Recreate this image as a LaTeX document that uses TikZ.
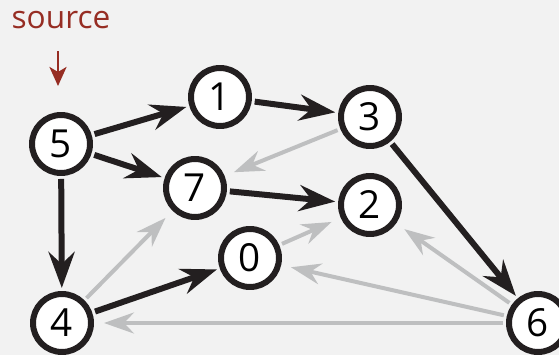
\documentclass[tikz,border=0pt]{standalone}
\usepackage{fontspec}
\setsansfont{Open Sans}
\usetikzlibrary{arrows.meta}
\definecolor{ink}{RGB}{35,31,32}
\definecolor{faded}{RGB}{190,191,192}
\definecolor{srcred}{RGB}{150,45,35}
\definecolor{paper}{RGB}{242,242,242}

\begin{document}
\begin{tikzpicture}[x=0.02cm,y=-0.02cm,
  vertex/.style={circle,draw=ink,line width=0.12cm,fill=white,minimum size=1.16cm,
    inner sep=0pt,font=\sffamily\fontsize{22}{22}\selectfont},
  treeedge/.style={draw=ink,line width=0.12cm,shorten <=0.06cm,shorten >=0.06cm,
    -{Stealth[length=0.72cm,width=0.52cm,inset=0.24cm]}},
  otheredge/.style={draw=faded,line width=0.08cm,shorten <=0.06cm,shorten >=0.2cm,
    -{Stealth[length=0.6cm,width=0.42cm,inset=0.2cm]}}]
\fill[paper] (0,0) rectangle (559,355);
\useasboundingbox (0,0) rectangle (559,355);

% vertices
\node[vertex] (v5) at (61,144) {5};
\node[vertex] (v1) at (220,97) {1};
\node[vertex] (v3) at (370,117) {3};
\node[vertex] (v7) at (195,188) {7};
\node[vertex] (v2) at (370,205) {2};
\node[vertex] (v0) at (250,258) {0};
\node[vertex] (v4) at (62,323) {4};
\node[vertex] (v6) at (538,323) {6};

% source marker
\node[text=srcred,font=\sffamily\fontsize{18}{18}\selectfont] (src) at (61,20) {source};
\coordinate (srctail) at (58,51);
\coordinate (srctip) at (58,86);
\draw[srcred,line width=0.06cm,-{Stealth[length=0.38cm,width=0.34cm,inset=0.1cm]}] (srctail) -- (srctip);

% tree edges
\draw[treeedge] (v5) -- (v1);
\draw[treeedge] (v5) -- (v7);
\draw[treeedge] (v5) -- (v4);
\draw[treeedge] (v1) -- (v3);
\draw[treeedge] (v7) -- (v2);
\draw[treeedge] (v3) -- (v6);
\draw[treeedge] (v4) -- (v0);

% other edges
\draw[otheredge] (v3) -- (v7);
\draw[otheredge] (v4) -- (v7);
\draw[otheredge] (v0) -- (v2);
\draw[otheredge] (v6) -- (v2);
\draw[otheredge] (v6) -- (v0);
\draw[otheredge] (v6) -- (v4);
\end{tikzpicture}
\end{document}
